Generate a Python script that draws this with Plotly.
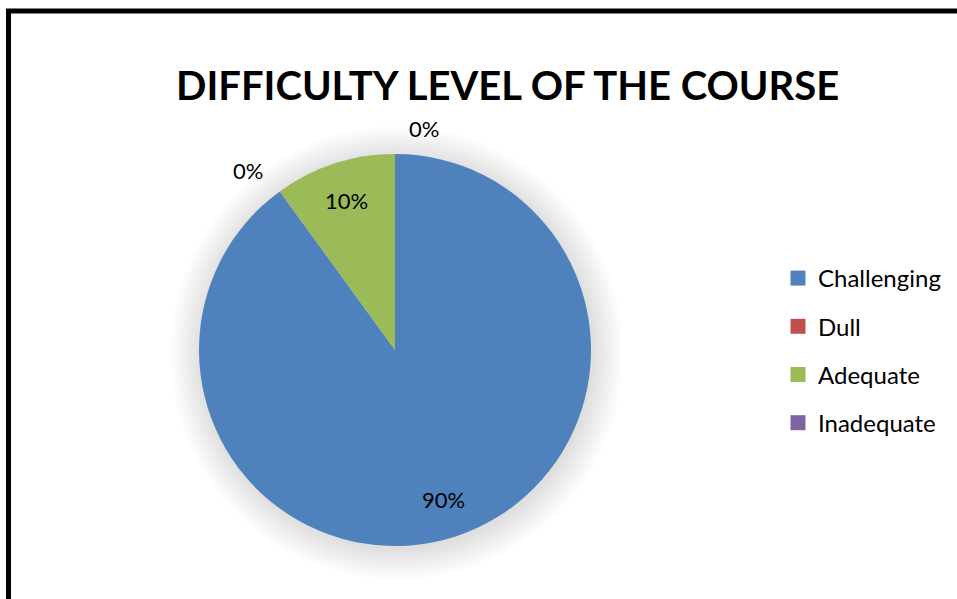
import math
import plotly.graph_objects as go

categories = ["Challenging", "Dull", "Adequate", "Inadequate"]
values = [90, 0, 10, 0]
colors = ["#4F81BD", "#C0504D", "#9BBB59", "#8064A2"]
title_text = "DIFFICULTY LEVEL OF THE COURSE"

W, H = 957, 599
cx, cy, R = 395, 350, 196  # pie centre / radius in pixels

def px(x):
    return x / W

def py(y):
    return 1 - y / H

fig = go.Figure()

fig.add_trace(go.Pie(
    labels=categories,
    values=values,
    sort=False,
    direction="clockwise",
    rotation=0,
    marker=dict(colors=colors, line=dict(width=0)),
    textinfo="none",
    hoverinfo="label+percent",
    showlegend=False,
    domain=dict(x=[px(cx - R), px(cx + R)], y=[py(cy + R), py(cy - R)]),
))

# legend via dummy traces
for c, col in zip(categories, colors):
    fig.add_trace(go.Scatter(
        x=[None], y=[None], mode="markers", name=c,
        marker=dict(symbol="square", size=15, color=col),
        legendgroup=c, showlegend=True,
    ))

# data labels computed from values
total = sum(values)
cum = 0
annotations = []
lab_font = dict(size=22, color="#000000", family="Lato")
for v in values:
    start = cum
    cum += v
    pct = round(100 * v / total)
    if v > 0:
        mid = (start + v / 2) / total * 2 * math.pi
        r = 0.8 * R
        lx = cx + r * math.sin(mid)
        ly = cy - r * math.cos(mid)
        annotations.append(dict(x=px(lx), y=py(ly), xref="paper", yref="paper",
                                text=f"{pct}%", showarrow=False, font=lab_font,
                                xanchor="center", yanchor="middle"))
    else:
        ang = start / total * 2 * math.pi
        r = 1.13 * R
        lx = cx + r * math.sin(ang)
        ly = cy - r * math.cos(ang)
        left = (ang % (2 * math.pi)) < 1e-9 or math.sin(ang) > 0
        annotations.append(dict(x=px(lx + (12 if left else 0)), y=py(ly), xref="paper", yref="paper",
                                text=f"{pct}%", showarrow=False, font=lab_font,
                                xanchor="left" if left else "right", yanchor="middle"))

annotations.append(dict(x=px(507), y=py(85), xref="paper", yref="paper",
                        text=f"<b>{title_text}</b>", showarrow=False,
                        font=dict(size=40, color="#000000", family="Lato"),
                        xanchor="center", yanchor="middle"))

# soft shadow around the pie
shapes = []
for k in range(16):
    rr = R + 1 + k * 2
    shapes.append(dict(type="circle", xref="paper", yref="paper",
                       x0=px(cx - rr + 2), x1=px(cx + rr + 2),
                       y0=py(cy + rr + 3), y1=py(cy - rr + 3),
                       fillcolor="rgba(0,0,0,0.008)", line=dict(width=0), layer="below"))

shapes.append(dict(type="rect", xref="paper", yref="paper",
                   x0=px(8.5), x1=px(W + 20), y0=py(H + 20), y1=py(11),
                   line=dict(color="black", width=5), fillcolor="rgba(0,0,0,0)", layer="above"))

fig.update_layout(
    width=W, height=H,
    margin=dict(l=0, r=0, t=0, b=0),
    paper_bgcolor="white", plot_bgcolor="white",
    xaxis=dict(visible=False), yaxis=dict(visible=False),
    annotations=annotations,
    legend=dict(x=px(778), y=py(256), xanchor="left", yanchor="top",
                font=dict(size=24, family="Lato", color="#000000"),
                tracegroupgap=14, bgcolor="rgba(0,0,0,0)"),
    shapes=shapes,
)

fig.write_html("out.html", config={"displayModeBar": False},
               post_script="document.body.style.margin='0';document.body.style.overflow='hidden';")
